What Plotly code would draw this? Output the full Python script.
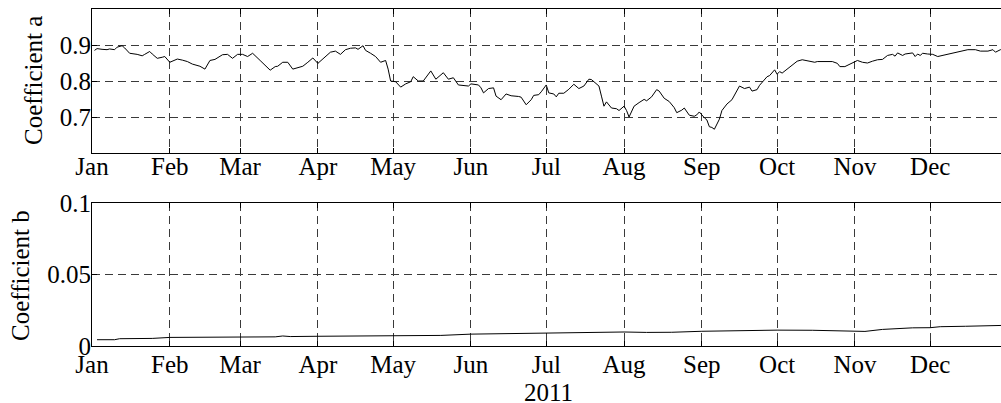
import plotly.graph_objects as go

# Daily estimates of coefficient a during 2011
dates_a = [
    "2011-01-02", "2011-01-03", "2011-01-05", "2011-01-07", "2011-01-08", "2011-01-10",
    "2011-01-11", "2011-01-13", "2011-01-14", "2011-01-16", "2011-01-19", "2011-01-21",
    "2011-01-22", "2011-01-24", "2011-01-25", "2011-01-27", "2011-01-29", "2011-01-30",
    "2011-02-01", "2011-02-03", "2011-02-04", "2011-02-06", "2011-02-08", "2011-02-10",
    "2011-02-13", "2011-02-15", "2011-02-17", "2011-02-19", "2011-02-22", "2011-02-24",
    "2011-02-26", "2011-02-28", "2011-03-02", "2011-03-04", "2011-03-06", "2011-03-09",
    "2011-03-11", "2011-03-13", "2011-03-15", "2011-03-16", "2011-03-18", "2011-03-20",
    "2011-03-22", "2011-03-24", "2011-03-26", "2011-03-28", "2011-03-30", "2011-04-01",
    "2011-04-04", "2011-04-06", "2011-04-08", "2011-04-10", "2011-04-12", "2011-04-14",
    "2011-04-16", "2011-04-17", "2011-04-19", "2011-04-20", "2011-04-22", "2011-04-24",
    "2011-04-26", "2011-04-28", "2011-04-29", "2011-04-30", "2011-05-02", "2011-05-04",
    "2011-05-06", "2011-05-08", "2011-05-09", "2011-05-11", "2011-05-13", "2011-05-14",
    "2011-05-16", "2011-05-18", "2011-05-21", "2011-05-23", "2011-05-25", "2011-05-27",
    "2011-05-29", "2011-05-31", "2011-06-01", "2011-06-04", "2011-06-05", "2011-06-06",
    "2011-06-08", "2011-06-10", "2011-06-11", "2011-06-13", "2011-06-15", "2011-06-17",
    "2011-06-20", "2011-06-21", "2011-06-23", "2011-06-25", "2011-06-26", "2011-06-28",
    "2011-06-29", "2011-06-30", "2011-07-01", "2011-07-02", "2011-07-04", "2011-07-05",
    "2011-07-06", "2011-07-08", "2011-07-10", "2011-07-12", "2011-07-14", "2011-07-16",
    "2011-07-18", "2011-07-19", "2011-07-21", "2011-07-22", "2011-07-23", "2011-07-24",
    "2011-07-25", "2011-07-27", "2011-07-29", "2011-07-30", "2011-08-01", "2011-08-02",
    "2011-08-03", "2011-08-05", "2011-08-07", "2011-08-09", "2011-08-10", "2011-08-12",
    "2011-08-14", "2011-08-15", "2011-08-17", "2011-08-19", "2011-08-21", "2011-08-22",
    "2011-08-24", "2011-08-25", "2011-08-27", "2011-08-29", "2011-08-30", "2011-08-31",
    "2011-09-02", "2011-09-03", "2011-09-04", "2011-09-05", "2011-09-06", "2011-09-08",
    "2011-09-09", "2011-09-11", "2011-09-13", "2011-09-14", "2011-09-16", "2011-09-18",
    "2011-09-20", "2011-09-21", "2011-09-23", "2011-09-24", "2011-09-26", "2011-09-27",
    "2011-09-28", "2011-09-30", "2011-10-01", "2011-10-02", "2011-10-03", "2011-10-05",
    "2011-10-06", "2011-10-09", "2011-10-11", "2011-10-13", "2011-10-16", "2011-10-17",
    "2011-10-20", "2011-10-23", "2011-10-25", "2011-10-26", "2011-10-28", "2011-10-30",
    "2011-11-01", "2011-11-02", "2011-11-04", "2011-11-06", "2011-11-08", "2011-11-10",
    "2011-11-12", "2011-11-14", "2011-11-16", "2011-11-17", "2011-11-18", "2011-11-20",
    "2011-11-21", "2011-11-24", "2011-11-25", "2011-11-26", "2011-11-27", "2011-11-28",
    "2011-11-30", "2011-12-02", "2011-12-04", "2011-12-06", "2011-12-08", "2011-12-10",
    "2011-12-12", "2011-12-14", "2011-12-16", "2011-12-19", "2011-12-21", "2011-12-24",
    "2011-12-26", "2011-12-27", "2011-12-29", "2011-12-30",
]
coef_a = [
    0.885, 0.890, 0.888, 0.887, 0.889, 0.887,
    0.894, 0.898, 0.892, 0.877, 0.874, 0.870,
    0.874, 0.882, 0.875, 0.863, 0.866, 0.868,
    0.852, 0.857, 0.861, 0.858, 0.854, 0.847,
    0.841, 0.833, 0.857, 0.860, 0.873, 0.874,
    0.863, 0.874, 0.874, 0.868, 0.877, 0.857,
    0.842, 0.830, 0.840, 0.841, 0.852, 0.852,
    0.833, 0.836, 0.841, 0.852, 0.864, 0.849,
    0.866, 0.880, 0.883, 0.874, 0.887, 0.891,
    0.892, 0.888, 0.898, 0.885, 0.877, 0.868,
    0.852, 0.857, 0.833, 0.800, 0.798, 0.783,
    0.792, 0.798, 0.812, 0.800, 0.800, 0.809,
    0.828, 0.805, 0.823, 0.805, 0.809, 0.789,
    0.788, 0.786, 0.792, 0.789, 0.781, 0.767,
    0.779, 0.781, 0.758, 0.748, 0.764, 0.759,
    0.757, 0.755, 0.734, 0.748, 0.760, 0.762,
    0.770, 0.781, 0.789, 0.767, 0.764, 0.756,
    0.766, 0.766, 0.777, 0.791, 0.779, 0.786,
    0.805, 0.804, 0.791, 0.786, 0.758, 0.730,
    0.742, 0.725, 0.723, 0.718, 0.730, 0.718,
    0.700, 0.730, 0.740, 0.749, 0.745, 0.756,
    0.776, 0.772, 0.752, 0.743, 0.726, 0.712,
    0.719, 0.725, 0.705, 0.702, 0.706, 0.714,
    0.698, 0.692, 0.673, 0.671, 0.666, 0.694,
    0.718, 0.736, 0.748, 0.762, 0.786, 0.779,
    0.783, 0.772, 0.776, 0.788, 0.805, 0.812,
    0.815, 0.831, 0.819, 0.826, 0.822, 0.833,
    0.838, 0.855, 0.859, 0.857, 0.852, 0.854,
    0.854, 0.854, 0.849, 0.840, 0.840, 0.847,
    0.852, 0.857, 0.852, 0.850, 0.855, 0.859,
    0.860, 0.871, 0.874, 0.869, 0.878, 0.871,
    0.875, 0.878, 0.868, 0.875, 0.871, 0.877,
    0.875, 0.874, 0.868, 0.871, 0.875, 0.878,
    0.880, 0.885, 0.887, 0.887, 0.883, 0.883,
    0.887, 0.880, 0.887, 0.888,
]

# Coefficient b over the same year
dates_b = [
    "2011-01-03", "2011-01-10", "2011-01-12", "2011-01-25", "2011-02-01", "2011-02-15",
    "2011-03-01", "2011-03-15", "2011-03-18", "2011-03-21", "2011-04-01", "2011-04-20",
    "2011-05-01", "2011-05-20", "2011-06-01", "2011-06-15", "2011-07-01", "2011-07-22",
    "2011-08-01", "2011-08-10", "2011-08-20", "2011-09-01", "2011-09-15", "2011-10-01",
    "2011-10-15", "2011-10-30", "2011-11-01", "2011-11-05", "2011-11-12", "2011-11-24",
    "2011-12-01", "2011-12-05", "2011-12-15", "2011-12-22", "2011-12-30",
]
coef_b = [
    0.0044, 0.0044, 0.0051, 0.0053, 0.0060, 0.0062,
    0.0063, 0.0064, 0.0070, 0.0066, 0.0068, 0.0069,
    0.0070, 0.0074, 0.0083, 0.0087, 0.0092, 0.0093,
    0.0098, 0.0095, 0.0096, 0.0103, 0.0108, 0.0111,
    0.0110, 0.0103, 0.0107, 0.0102, 0.0116, 0.0127,
    0.0128, 0.0135, 0.0138, 0.0143, 0.0144,
]

month_starts = [f"2011-{m:02d}-01" for m in range(1, 13)]
month_labels = ["Jan", "Feb", "Mar", "Apr", "May", "Jun",
                "Jul", "Aug", "Sep", "Oct", "Nov", "Dec"]
ticks_a = [0.7, 0.8, 0.9]
ticks_b = [0, 0.05, 0.1]

W, H = 1001, 403
FONT = "Liberation Serif, Times New Roman, serif"
FS = 25
GRID = dict(showgrid=True, gridcolor="#3a3a3a", gridwidth=1, griddash="8px,5px")

fig = go.Figure()
fig.add_trace(go.Scatter(x=dates_a, y=coef_a, mode="lines",
                         line=dict(color="black", width=1), xaxis="x", yaxis="y"))
fig.add_trace(go.Scatter(x=dates_b, y=coef_b, mode="lines",
                         line=dict(color="black", width=1), xaxis="x2", yaxis="y2"))

xcommon = dict(
    range=["2011-01-01", "2011-12-29 05:00"],
    tickmode="array", tickvals=month_starts, ticktext=month_labels,
    ticks="inside", ticklen=5, tickcolor="black",
    showline=True, linecolor="black", linewidth=1, mirror="ticks",
    zeroline=False, domain=[92 / W, 1.0], automargin=False,
    tickfont=dict(family=FONT, size=FS, color="black"),
    **GRID,
)
ycommon = dict(
    tickmode="array", ticks="inside", ticklen=5, tickcolor="black",
    showline=True, linecolor="black", linewidth=1, mirror=False,
    zeroline=False, automargin=False, ticklabelstandoff=-5,
    tickfont=dict(family=FONT, size=FS, color="black"),
    **GRID,
)

fig.update_layout(
    width=W, height=H,
    margin=dict(l=0, r=0, t=0, b=0, autoexpand=False),
    paper_bgcolor="white", plot_bgcolor="white",
    showlegend=False,
    xaxis=dict(anchor="y", ticklabelstandoff=-9, **xcommon),
    xaxis2=dict(anchor="y2", ticklabelstandoff=-4, **xcommon),
    yaxis=dict(anchor="x", range=[0.6, 1.0], tickvals=ticks_a,
               domain=[1 - 153 / H, 1 - 9 / H], **ycommon),
    yaxis2=dict(anchor="x2", range=[0, 0.1], tickvals=ticks_b,
                domain=[1 - 346 / H, 1 - 203 / H], **ycommon),
)

label_font = dict(family=FONT, size=FS, color="black")
fig.add_annotation(text="Coefficient a", textangle=-90, xref="paper", yref="paper",
                   x=33 / W, y=1 - 81 / H, xanchor="center", yanchor="middle",
                   showarrow=False, font=label_font)
fig.add_annotation(text="Coefficient b", textangle=-90, xref="paper", yref="paper",
                   x=20 / W, y=1 - 276 / H, xanchor="center", yanchor="middle",
                   showarrow=False, font=label_font)
fig.add_annotation(text="2011", xref="paper", yref="paper",
                   x=548 / W, y=1 - 392 / H, xanchor="center", yanchor="middle",
                   showarrow=False, font=label_font)

fig.write_html("out.html")
